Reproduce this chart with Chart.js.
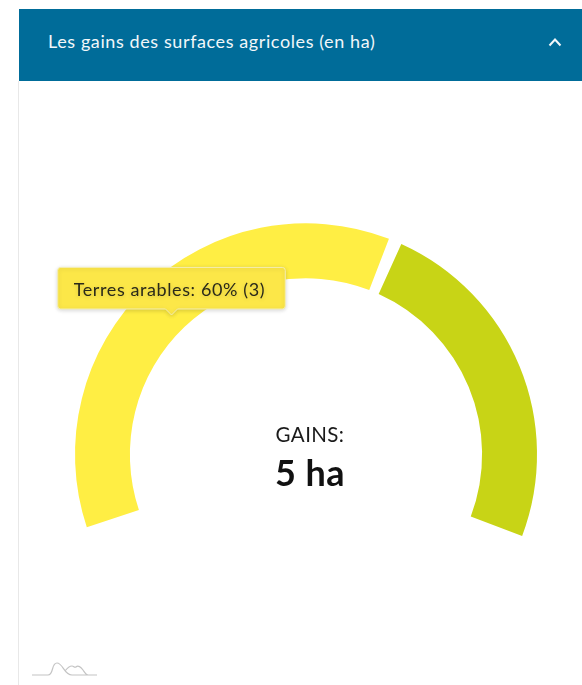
<!DOCTYPE html>
<html lang="fr">
<head>
<meta charset="utf-8">
<title>Les gains des surfaces agricoles</title>
<script src="https://cdn.jsdelivr.net/npm/chart.js@4/dist/chart.umd.min.js"></script>
<style>
  html, body { margin: 0; padding: 0; background: #fff; }
  body { width: 582px; height: 685px; position: relative; overflow: hidden; font-family: Lato, sans-serif; }
  #rule { position: absolute; left: 18px; top: 81px; width: 1px; height: 604px; background: #e8e8e8; }
  #head { position: absolute; left: 19px; top: 9px; width: 563px; height: 72px; background: #006c99; }
  #title { position: absolute; left: 29px; top: 21px; color: #f2f7fa; font-size: 18px; line-height: 22px; letter-spacing: 0.6px; white-space: nowrap; }
  #chev { position: absolute; left: 529px; top: 27px; }
  #wrap { position: absolute; left: 0; top: 81px; width: 582px; height: 604px; }
  #center { position: absolute; left: 210px; top: 421px; width: 200px; text-align: center; color: #1a1a1a; }
  #center .a { font-size: 20.5px; line-height: 26px; letter-spacing: 0.4px; }
  #center .b { font-size: 36px; line-height: 44px; font-weight: 700; color: #111; margin-top: 3px; letter-spacing: 0.5px; }
  #mark { position: absolute; left: 30px; top: 658px; }
</style>
</head>
<body>
<div id="rule"></div>
<div id="head">
  <div id="title">Les gains des surfaces agricoles (en ha)</div>
  <svg id="chev" width="14" height="12"><path d="M1.5 9.5 L7 3.5 L12.5 9.5" fill="none" stroke="#f2f7fa" stroke-width="2"/></svg>
</div>
<div id="wrap"><canvas id="gauge"></canvas></div>
<div id="center"><div class="a">GAINS:</div><div class="b">5 ha</div></div>
<svg id="mark" width="70" height="24"><path d="M2 17 H18 C24 17 21 5 27 5 C33 5 34 17 42 17 M35 13 C38 9 40 8 42 8 C44 8 44 10 46 9 C48 7 51 9 53 12 C55 15 56 17 58 17 M40 17 H67" fill="none" stroke="#c4c4c4" stroke-width="1.2"/></svg>
<script>
const categories = ["Terres arables", "Autres surfaces"];
const values = [3, 2];
const colors = ["#ffee44", "#c8d416"];

const total = values.reduce(function (a, b) { return a + b; }, 0);

Chart.Tooltip.positioners.pinned = function () {
  return { x: 171.5, y: 234 };
};

// soft shadow + tracking on the tooltip, chart.js has no option for them
const tooltipStyle = {
  id: "tooltipStyle",
  beforeTooltipDraw: function (chart) {
    const ctx = chart.ctx;
    ctx.save();
    ctx.shadowColor = "rgba(0, 0, 0, 0.16)";
    ctx.shadowBlur = 4;
    ctx.shadowOffsetY = 1;
    ctx.letterSpacing = "0.6px";
  },
  afterTooltipDraw: function (chart) {
    chart.ctx.restore();
  }
};

const chart = new Chart(document.getElementById("gauge").getContext("2d"), {
  type: "doughnut",
  data: {
    labels: categories,
    datasets: [{
      data: values,
      backgroundColor: colors,
      hoverBackgroundColor: colors,
      borderWidth: 0,
      hoverBorderWidth: 0,
      hoverOffset: 0,
      spacing: 12
    }]
  },
  plugins: [tooltipStyle],
  options: {
    responsive: false,
    animation: false,
    events: [],
    rotation: -110.4,
    circumference: 222.4,
    radius: 225,
    cutout: "75.6%",
    layout: { padding: { left: 30, right: 0, top: 24, bottom: 0 } },
    plugins: {
      legend: { display: false },
      tooltip: {
        enabled: true,
        position: "pinned",
        xAlign: "center",
        yAlign: "bottom",
        displayColors: false,
        backgroundColor: "#fce748",
        borderColor: "#f4eeb4",
        borderWidth: 1,
        cornerRadius: 3,
        caretSize: 6,
        caretPadding: 0,
        padding: { left: 16, right: 34, top: 12, bottom: 8 },
        bodyColor: "#2a2a1a",
        bodyFont: { family: "Lato", size: 18 },
        callbacks: {
          title: function () { return ""; },
          label: function (item) {
            const pct = Math.round(item.raw / total * 100);
            return item.label + ": " + pct + "% (" + item.raw + ")";
          }
        }
      }
    }
  }
});
chart.resize(582, 604);
chart.tooltip.setActiveElements([{ datasetIndex: 0, index: 0 }], { x: 171.5, y: 234 });
chart.setActiveElements([{ datasetIndex: 0, index: 0 }]);
chart.update();
</script>
</body>
</html>
